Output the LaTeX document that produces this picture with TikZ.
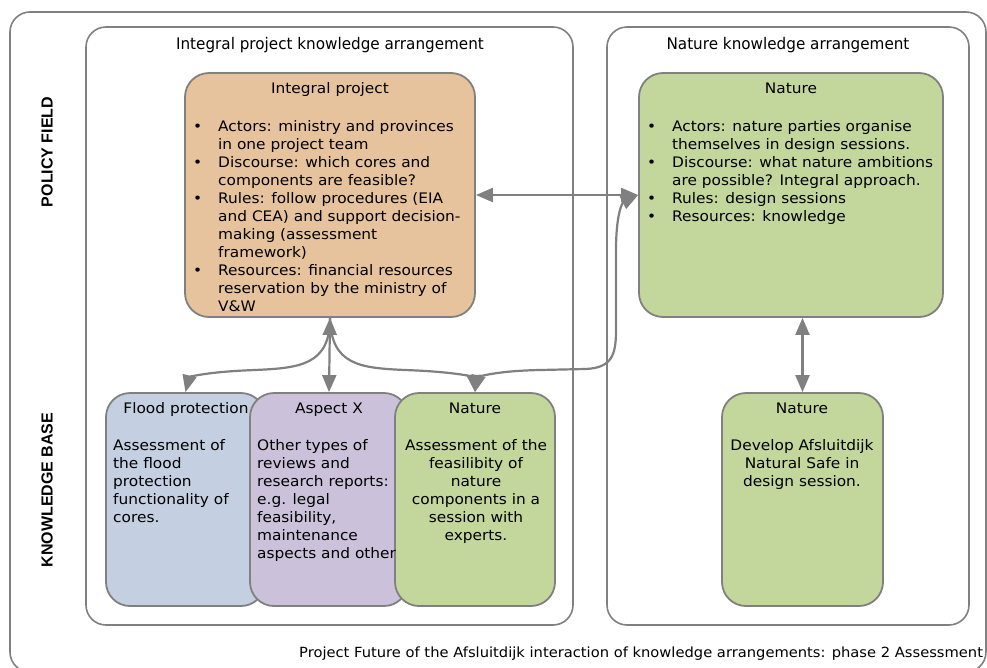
\documentclass[tikz,border=0pt]{standalone}
\usepackage{fontspec}
\setmainfont{DejaVu Sans}[FakeStretch=1.06]
\newfontfamily\capfont{DejaVu Sans}[FakeStretch=1.05]
\newfontfamily\condfont{DejaVu Sans}[FakeStretch=0.95]
\newfontfamily\labfont{Liberation Sans}
\usetikzlibrary{arrows.meta}

\definecolor{linegray}{RGB}{128,128,128}
\definecolor{tanfill}{RGB}{230,195,156}
\definecolor{greenfill}{RGB}{195,214,155}
\definecolor{bluefill}{RGB}{196,207,225}
\definecolor{purplefill}{RGB}{204,193,218}

\newcommand\bodyfont{\fontsize{14.5}{18}\selectfont}
\newcommand\bitem{\makebox[25pt][l]{\textbullet}}
\newcommand\bcont{\hspace*{25pt}}

\begin{document}
\begin{tikzpicture}[x=1pt,y=-1pt,
  arrbox/.style={draw=linegray, line width=1.6pt, rounded corners=20pt},
  card/.style={draw=linegray, line width=1.8pt, rounded corners=24pt, inner sep=0pt},
  cardtitle/.style={font=\bodyfont, inner sep=0pt, anchor=base},
  cardtext/.style={font=\bodyfont, inner sep=0pt, anchor=north west, align=left},
  cardtextc/.style={font=\bodyfont, inner sep=0pt, anchor=north, align=center},
  lnk/.style={draw=linegray, line width=2.2pt,
    {Triangle[length=17pt,width=14pt]}-{Triangle[length=17pt,width=14pt]}},
  sidelabel/.style={font=\labfont\bfseries\fontsize{16}{18}\selectfont, rotate=90, inner sep=0pt}
]
\useasboundingbox (0,0) rectangle (987,667);

% outer frame
\draw[arrbox] (10,12) rectangle (986,672);

% knowledge arrangements
\draw[arrbox] (86,27) rectangle (573,625);
\draw[arrbox] (607,27) rectangle (969,625);
\node[font=\condfont\fontsize{16}{18}\selectfont, anchor=base] (ipa) at (330,49) {Integral project knowledge arrangement};
\node[font=\condfont\fontsize{16}{18}\selectfont, anchor=base] (na) at (788,49) {Nature knowledge arrangement};

% side labels
\node[sidelabel] (pf) at (47,152) {POLICY FIELD};
\node[sidelabel] (kb) at (47,490) {KNOWLEDGE BASE};

% policy field cards
\node[card, fill=tanfill, minimum width=290pt, minimum height=244pt] (ip) at (330,195) {};
\node[card, fill=greenfill, minimum width=304pt, minimum height=244pt] (np) at (791,195) {};

\node[cardtitle] (ipt) at (330,93) {Integral project};
\node[cardtext] (ipl) at (193,120) {%
\bitem Actors: ministry and provinces\\
\bcont in one project team\\
\bitem Discourse: which cores and\\
\bcont components are feasible?\\
\bitem Rules: follow procedures (EIA\\
\bcont and CEA) and support decision-\\
\bcont making (assessment\\
\bcont framework)\\
\bitem Resources: financial resources\\
\bcont reservation by the ministry of\\
\bcont V\&W};

\node[cardtitle] (npt) at (791,93) {Nature};
\node[cardtext] (npl) at (647,120) {%
\bitem Actors: nature parties organise\\
\bcont themselves in design sessions.\\
\bitem Discourse: what nature ambitions\\
\bcont are possible? Integral approach.\\
\bitem Rules: design sessions\\
\bitem Resources: knowledge};

% knowledge base cards
\node[card, fill=bluefill, minimum width=159pt, minimum height=213pt] (fp) at (185.5,499.5) {};
\node[card, fill=purplefill, minimum width=158pt, minimum height=213pt] (ax) at (329,499.5) {};
\node[card, fill=greenfill, minimum width=160pt, minimum height=213pt] (nk) at (475,499.5) {};
\node[card, fill=greenfill, minimum width=161pt, minimum height=213pt] (nr) at (802.5,499.5) {};

\node[cardtitle] (fpt) at (186,413) {Flood protection};
\node[cardtext] (fpl) at (113,439) {Assessment of\\the flood\\protection\\functionality of\\cores.};

\node[cardtitle] (axt) at (329,413) {Aspect X};
\node[cardtext] (axl) at (257,439) {Other types of\\reviews and\\research reports:\\e.g. legal\\feasibility,\\maintenance\\aspects and other};

\node[cardtitle] (nkt) at (475,413) {Nature};
\node[cardtextc] (nkl) at (476,439) {Assessment of the\\feasilibity of\\nature\\components in a\\session with\\experts.};

\node[cardtitle] (nrt) at (802,413) {Nature};
\node[cardtextc] (nrl) at (802,439) {Develop Afsluitdijk\\Natural Safe in\\design session.};

% connectors between the arrangements
\draw[lnk] (ip.east) -- (np.west);
\draw[lnk] (ip.south) -- (ax.north);
\draw[lnk] (nr.north) -- (nr.north |- np.south);
\draw[draw=linegray, line width=2.2pt, -{Triangle[length=17pt,width=14pt]}]
  (ip.south) .. controls (330,365) and (300,368) .. (255,370)
  .. controls (200,372) and (189,378) .. (fp.north);
\draw[draw=linegray, line width=2.2pt, -{Triangle[length=17pt,width=14pt]}]
  (ip.south) .. controls (331,365) and (360,368) .. (405,370)
  .. controls (462,372) and (474,378) .. (nk.north);
\draw[lnk] (nk.north) .. controls (478,378) and (490,371) .. (540,370)
  -- (585,369) .. controls (612,368) and (616,355) .. (616,330)
  -- (616,250) .. controls (616,215) and (622,203) .. (np.west);

% caption
\node[font=\capfont\fontsize{14}{16}\selectfont, anchor=base west, inner sep=0pt] (cap) at (299,657) {Project Future of the Afsluitdijk interaction of knowledge arrangements: phase 2 Assessment};
\end{tikzpicture}
\end{document}
